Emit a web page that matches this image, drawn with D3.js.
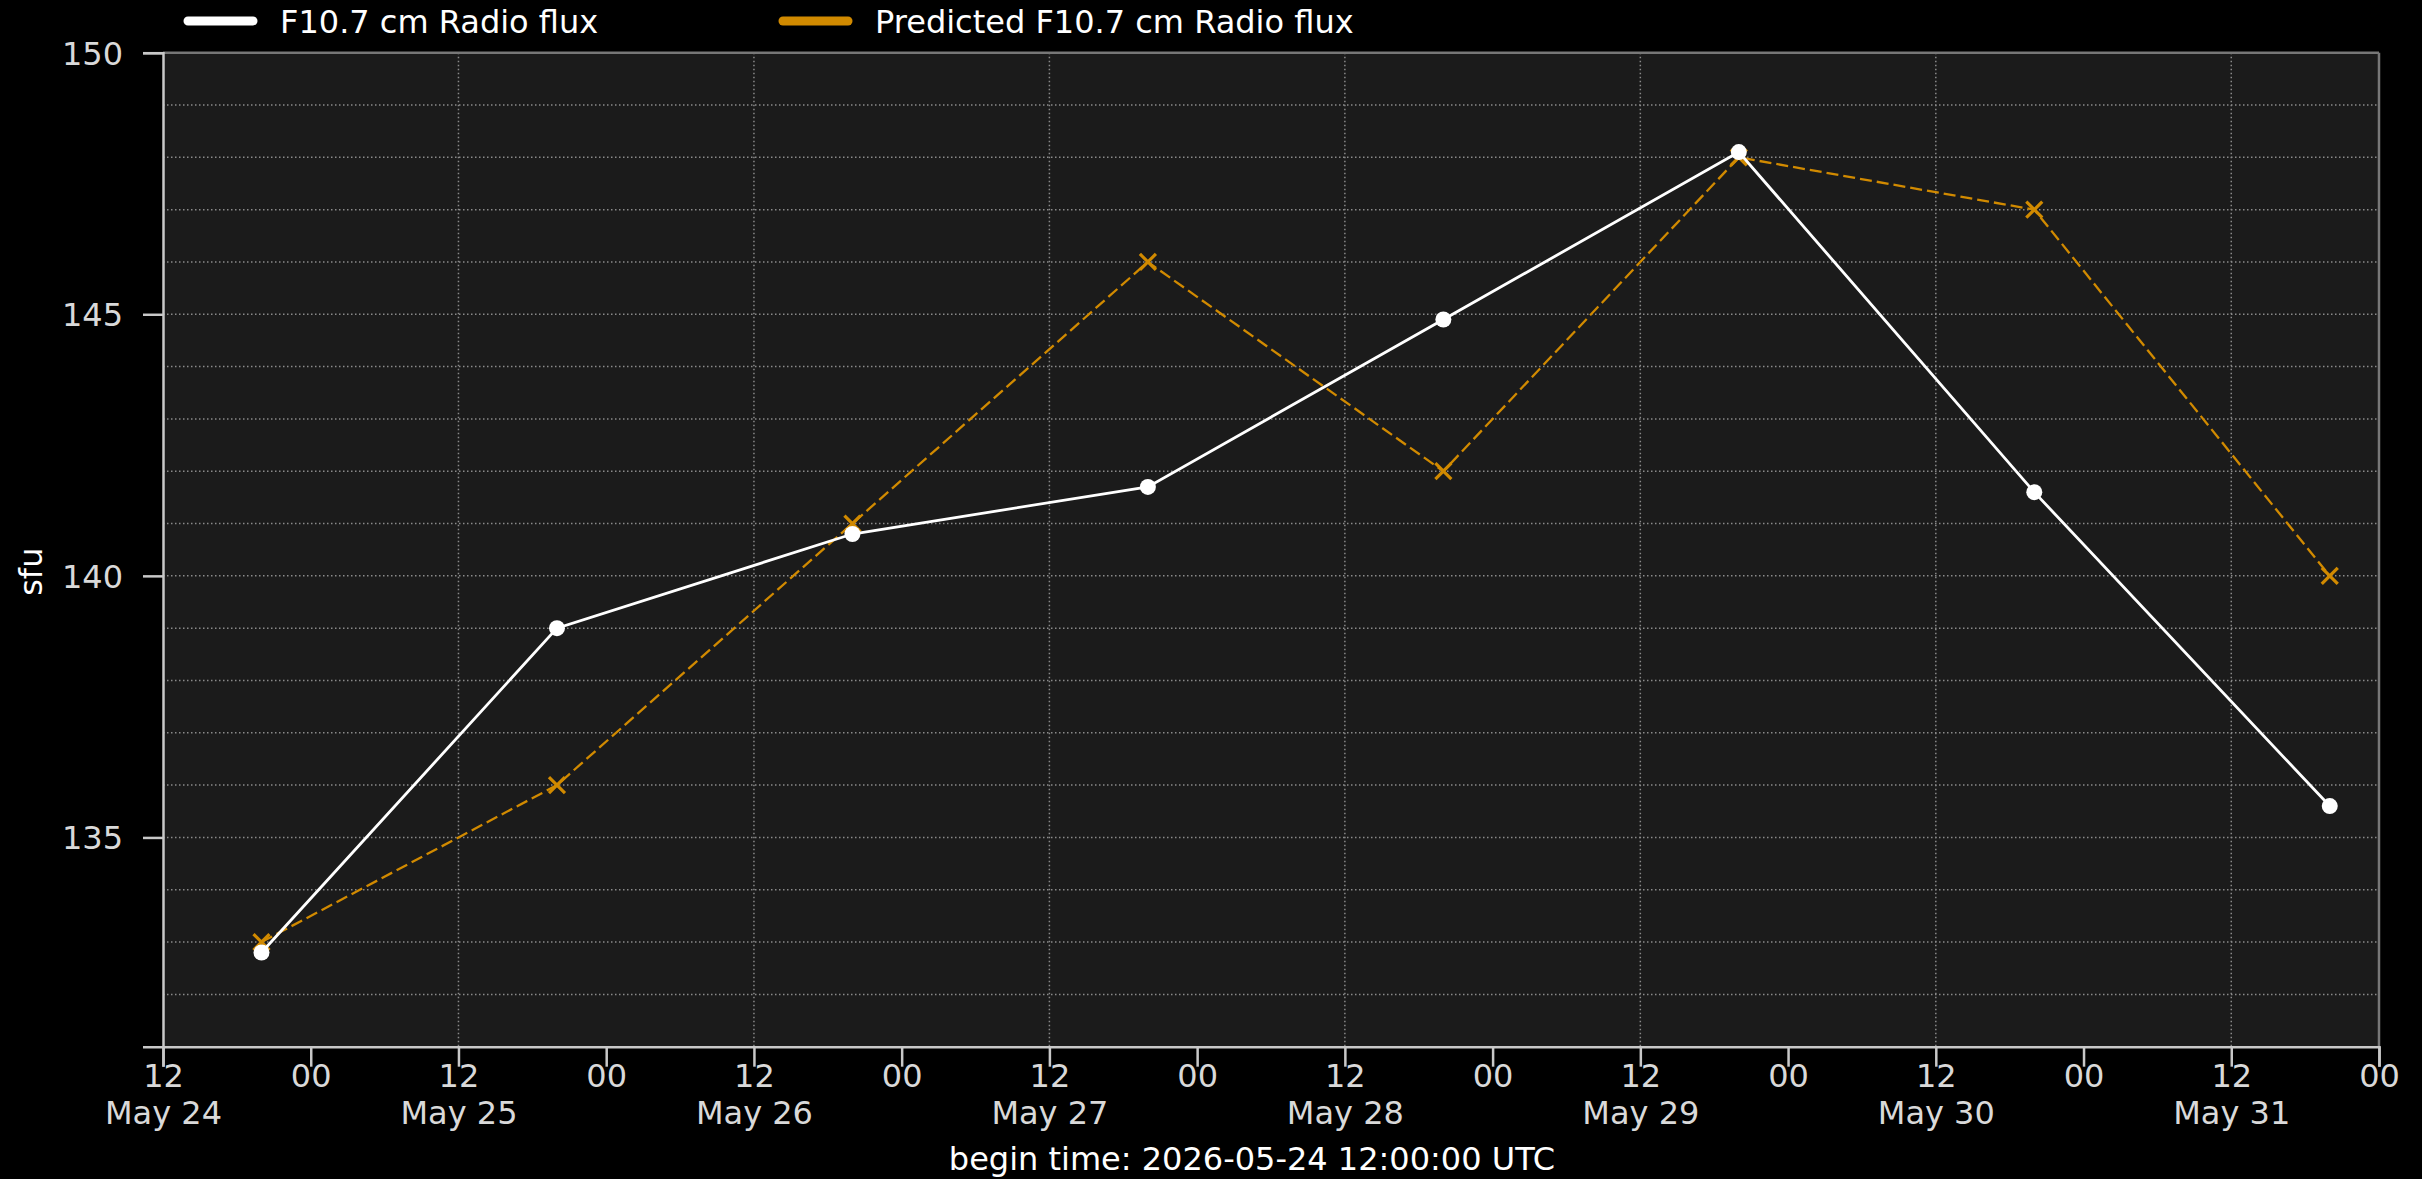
<!DOCTYPE html>
<html>
<head>
<meta charset="utf-8">
<script src="https://cdn.jsdelivr.net/npm/d3@7"></script>
<style>
  body { margin: 0; background: #000; }
  svg { display: block; }
  text { font-family: "DejaVu Sans", sans-serif; }
</style>
</head>
<body>
<svg id="chart"></svg>
<script>
// data (F10.7 observed at 20 UTC every day)
const times = [
  "2026-05-24T20:00:00Z", "2026-05-25T20:00:00Z", "2026-05-26T20:00:00Z", "2026-05-27T20:00:00Z",
  "2026-05-28T20:00:00Z", "2026-05-29T20:00:00Z", "2026-05-30T20:00:00Z", "2026-05-31T20:00:00Z"
];
const flux = [132.8, 139.0, 140.8, 141.7, 144.9, 148.1, 141.6, 135.6];
const predicted = [133, 136, 141, 146, 142, 148, 147, 140];
const yTicks = [135, 140, 145, 150];
const yMinor = [132, 133, 134, 136, 137, 138, 139, 141, 142, 143, 144, 146, 147, 148, 149];
const xDomain = ["2026-05-24T12:00:00Z", "2026-06-01T00:00:00Z"];
const yDomain = [131, 150];
const seriesNames = ["F10.7 cm Radio flux", "Predicted F10.7 cm Radio flux"];
const xLabel = "begin time: 2026-05-24 12:00:00 UTC";
const yLabel = "sfu";

const width = 2422;
const height = 1179;
const margin = { top: 52.7, right: 43, bottom: 132.3, left: 163 };
const innerW = width - margin.left - margin.right;
const innerH = height - margin.top - margin.bottom;

const orange = "#d18a00";
const gridColor = "#8a8a8a";
const tickColor = "#d9d9d9";

const svg = d3.select("#chart").attr("width", width).attr("height", height);
svg.append("rect").attr("width", width).attr("height", height).attr("fill", "#000");

const parse = d3.isoParse;
const x = d3.scaleUtc().domain(xDomain.map(parse)).range([0, innerW]);
const y = d3.scaleLinear().domain(yDomain).range([innerH, 0]);

const g = svg.append("g").attr("transform", `translate(${margin.left},${margin.top})`);

// fundo do eixo
g.append("rect").attr("width", innerW).attr("height", innerH).attr("fill", "#1b1b1b");

// grid
const xTicks = d3.utcHour.every(12).range(parse(xDomain[0]), d3.utcMinute.offset(parse(xDomain[1]), 1));
const xMajor = xTicks.filter(d => d.getUTCHours() === 12);

g.append("g").selectAll("line")
  .data(yTicks.concat(yMinor))
  .enter().append("line")
  .attr("x1", 0).attr("x2", innerW)
  .attr("y1", d => y(d)).attr("y2", d => y(d))
  .attr("stroke", gridColor).attr("stroke-width", 1.5)
  .attr("stroke-dasharray", "1.5,2.5");

g.append("g").selectAll("line")
  .data(xMajor.slice(1))
  .enter().append("line")
  .attr("x1", d => x(d)).attr("x2", d => x(d))
  .attr("y1", 0).attr("y2", innerH)
  .attr("stroke", gridColor).attr("stroke-width", 1.5)
  .attr("stroke-dasharray", "1.5,2.5");

// series
const pts = times.map((t, i) => ({ t: parse(t), obs: flux[i], pred: predicted[i] }));

const linePred = d3.line().x(d => x(d.t)).y(d => y(d.pred));
const lineObs = d3.line().x(d => x(d.t)).y(d => y(d.obs));

g.append("path").datum(pts)
  .attr("d", linePred)
  .attr("fill", "none")
  .attr("stroke", orange)
  .attr("stroke-width", 2.3)
  .attr("stroke-dasharray", "12,5");

const xs = 8;
g.append("g").selectAll("path")
  .data(pts)
  .enter().append("path")
  .attr("d", d => `M${x(d.t) - xs},${y(d.pred) - xs}L${x(d.t) + xs},${y(d.pred) + xs}M${x(d.t) - xs},${y(d.pred) + xs}L${x(d.t) + xs},${y(d.pred) - xs}`)
  .attr("stroke", orange)
  .attr("stroke-width", 3.2)
  .attr("fill", "none");

g.append("path").datum(pts)
  .attr("d", lineObs)
  .attr("fill", "none")
  .attr("stroke", "#fff")
  .attr("stroke-width", 2.8);

g.append("g").selectAll("circle")
  .data(pts)
  .enter().append("circle")
  .attr("cx", d => x(d.t))
  .attr("cy", d => y(d.obs))
  .attr("r", 8)
  .attr("fill", "#fff");

// spines
g.append("line").attr("x1", 0).attr("x2", innerW).attr("y1", 0).attr("y2", 0)
  .attr("stroke", "#777").attr("stroke-width", 2.5);
g.append("line").attr("x1", innerW).attr("x2", innerW).attr("y1", 0).attr("y2", innerH)
  .attr("stroke", "#777").attr("stroke-width", 2.5);

// eixos
const yAxis = g.append("g")
  .call(d3.axisLeft(y).tickValues(yTicks).tickSize(20).tickPadding(20).tickFormat(d3.format("d")));
const xAxis = g.append("g")
  .attr("transform", `translate(0,${innerH})`)
  .call(d3.axisBottom(x).tickValues(xTicks).tickSize(20).tickPadding(10).tickFormat(() => ""));

[yAxis, xAxis].forEach(ax => {
  ax.select(".domain").attr("stroke", "#c8c8c8").attr("stroke-width", 2.5);
  ax.selectAll(".tick line").attr("stroke", "#c8c8c8").attr("stroke-width", 2.5);
  ax.selectAll("text").attr("fill", tickColor).attr("font-size", 32)
    .attr("font-family", "DejaVu Sans, sans-serif");
});

yAxis.selectAll(".tick text").attr("dy", "0.36em");

// rótulos de data em duas linhas (texto separado para cada linha)
xAxis.selectAll(".tick text").each(function (d) {
  d3.select(this).text(d3.utcFormat("%H")(d)).attr("y", 40).attr("dy", null);
  if (d.getUTCHours() === 12) {
    d3.select(this.parentNode).append("text")
      .attr("y", 77)
      .attr("fill", tickColor).attr("font-size", 32)
      .attr("font-family", "DejaVu Sans, sans-serif")
      .text(d3.utcFormat("%b %-d")(d));
  }
});

// títulos
svg.append("text")
  .attr("x", 1252).attr("y", 1170)
  .attr("text-anchor", "middle")
  .attr("fill", "#fff").attr("font-size", 32)
  .text(xLabel);

svg.append("text")
  .attr("transform", `translate(42,${margin.top + innerH / 2 + 22}) rotate(-90)`)
  .attr("text-anchor", "middle")
  .attr("fill", "#fff").attr("font-size", 32)
  .text(yLabel);

// legenda
const legendX = [188, 783];
const legendColors = ["#fff", orange];
const legend = svg.append("g").selectAll("g")
  .data(seriesNames)
  .enter().append("g")
  .attr("transform", (d, i) => `translate(${legendX[i]},21)`);

legend.append("line")
  .attr("x1", 0).attr("x2", 65)
  .attr("stroke", (d, i) => legendColors[i])
  .attr("stroke-width", 9)
  .attr("stroke-linecap", "round");

legend.append("text")
  .attr("x", 92)
  .attr("y", 12)
  .attr("fill", "#fff").attr("font-size", 32)
  .text(d => d);
</script>
</body>
</html>
